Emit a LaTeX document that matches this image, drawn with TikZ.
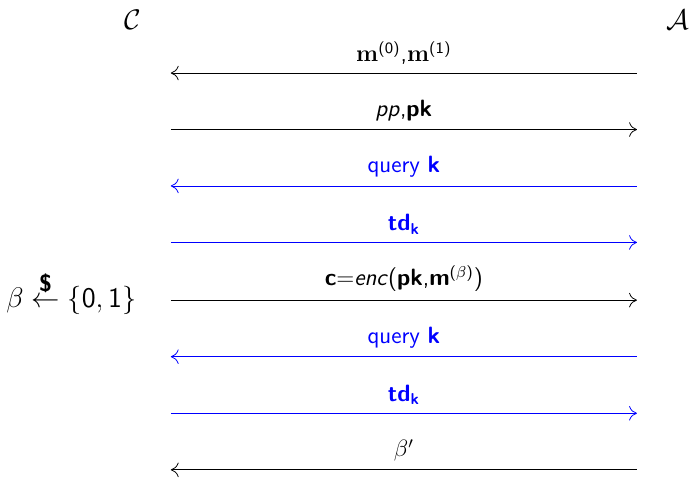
\documentclass[12pt,tikz,border=0pt]{standalone}
\usepackage{amsmath}
\usepackage{amssymb}
\usepackage{xcolor}
\usepackage{tikz}
\usetikzlibrary{arrows.meta, positioning, calc}

% bold sans vectors and keys
\newcommand{\vsf}[1]{\textsf{\textbf{#1}}}
\newcommand{\isf}[1]{\textsf{\textit{#1}}}

\begin{document}
\begin{tikzpicture}[
  font=\sffamily,
  party/.style={font=\large},
  msg/.style={-{To[length=1.4mm, width=2.6mm]}},
  qry/.style={msg, draw=blue, text=blue},
  lbl/.style={midway, above}
]
\useasboundingbox (0,0) rectangle (12.34,-8.57);

% end points of the eight messages
\foreach \i/\y in {1/1.304, 2/2.313, 3/3.321, 4/4.330, 5/5.36, 6/6.37, 7/7.38, 8/8.39} {
  \coordinate (c\i) at (3.05,-\y);
  \coordinate (a\i) at (11.375,-\y);
}

\node[party] (chal) at (2.375,-0.36) {$\mathcal{C}$};
\node[party] (adv) at (12.11,-0.36) {$\mathcal{A}$};

\draw[msg] (a1) -- (c1) node[lbl] {$\mathbf{m}^{\textsf{(0)}}$,$\mathbf{m}^{\textsf{(1)}}$};
\draw[msg] (c2) -- (a2) node[lbl] {\isf{pp},\vsf{pk}};
\draw[qry] (a3) -- (c3) node[lbl] {query \vsf{k}};
\draw[qry] (c4) -- (a4) node[lbl] {\vsf{td}$_{\vsf{k}}$};
\draw[msg] (c5) -- (a5) node[lbl] {\vsf{c}$=$\isf{enc}(\vsf{pk},\vsf{m}$^{\textsf{(}\beta\textsf{)}}$)};
\draw[qry] (a6) -- (c6) node[lbl] {query \vsf{k}};
\draw[qry] (c7) -- (a7) node[lbl] {\vsf{td}$_{\vsf{k}}$};
\draw[msg] (a8) -- (c8) node[lbl] {$\beta'$};

\node[anchor=base east, font=\large] (coin) at ($(c5)+(-0.47,-0.14)$)
  {$\beta \overset{\mbox{\normalsize\vsf{\$}}}{\leftarrow} \{\textsf{0},\textsf{1}\}$};
\end{tikzpicture}
\end{document}
